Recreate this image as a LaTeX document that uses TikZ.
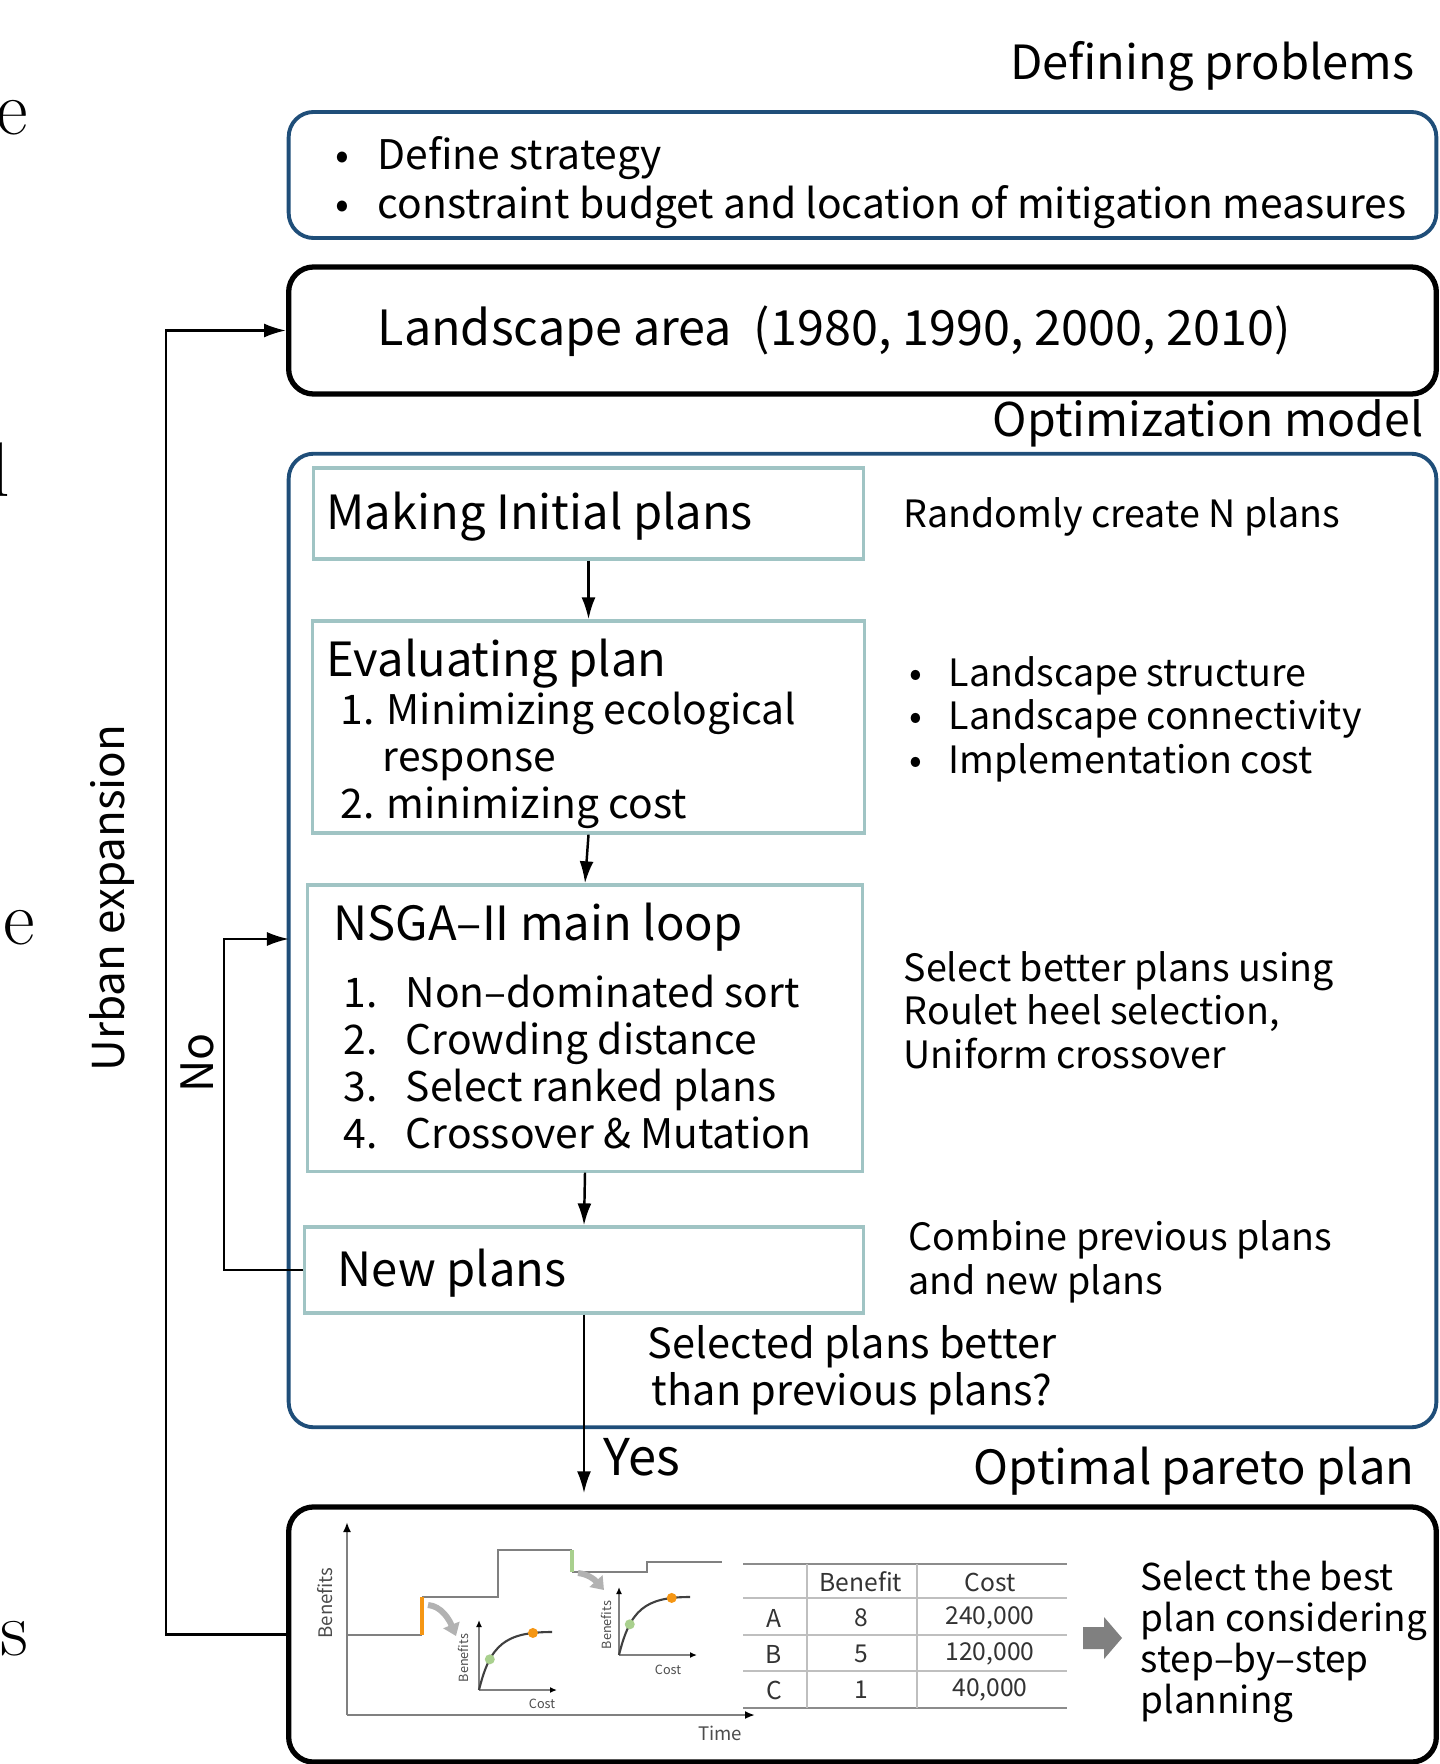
\documentclass[tikz,border=0pt]{standalone}
\usepackage{fontspec}
\setmainfont{Noto Sans CJK KR}
\usetikzlibrary{arrows.meta}

\definecolor{frameblue}{RGB}{31,78,121}
\definecolor{stepline}{RGB}{160,196,196}
\definecolor{axisgray}{RGB}{128,128,128}
\definecolor{ptorange}{RGB}{245,150,20}
\definecolor{ptgreen}{RGB}{169,208,142}

\tikzset{
  probframe/.style={draw=frameblue, line width=1.1pt, rounded corners=0.25cm},
  areaframe/.style={draw=black, line width=1.5pt, rounded corners=0.25cm},
  stepbox/.style={draw=stepline, line width=0.9pt},
  txt/.style={inner sep=0pt, align=left},
  bigtxt/.style={txt, font=\fontsize{13.4}{16}\selectfont},
  smalltxt/.style={txt, font=\fontsize{11.6}{13.4}\selectfont},
  notetxt/.style={txt, font=\fontsize{10.7}{12.4}\selectfont},
  flow/.style={line width=0.7pt, -{Latex[length=0.22cm, width=0.14cm]}},
  chartaxis/.style={draw=axisgray, line width=0.6pt, -{Latex[length=0.1cm, width=0.08cm, color=black]}},
  miniaxis/.style={draw=axisgray, line width=0.5pt, -{Latex[length=0.07cm, width=0.06cm, color=black]}},
  paretocurve/.style={draw=black!75, line width=0.6pt},
  ptdot/.style={circle, fill=#1, inner sep=0pt, minimum size=0.1cm},
  benefitline/.style={draw=axisgray, line width=0.6pt},
  chartlbl/.style={inner sep=0pt, text=black!70, font=\fontsize{5.3}{6}\selectfont},
  tinylbl/.style={inner sep=0pt, text=black!70, font=\fontsize{3.6}{4}\selectfont},
  tabcell/.style={inner sep=0pt, text=black!80, font=\fontsize{7}{8}\selectfont},
  tabline/.style={draw=black!25, line width=0.5pt},
  fadearrow/.style={draw=black!30, line width=0.06cm, -{Triangle[length=0.12cm, width=0.17cm]}},
  frag/.style={inner sep=0pt, font=\fontfamily{lmr}\fontsize{22}{26}\selectfont},
}

\begin{document}
\lineskiplimit=-10pt
\lineskip=0pt
\begin{tikzpicture}[x=0.01cm, y=-0.01cm]
	\useasboundingbox (0,0) rectangle (1440,1764);

	% cut-off text at the left edge
	\node [frag, anchor=base east] (fragA) at (29,135) {e};
	\node [frag, anchor=base east] (fragB) at (11,496) {l};
	\node [frag, anchor=base east] (fragC) at (36,944) {e};
	\node [frag, anchor=base east] (fragD) at (29,1655) {s};

	% defining problems
	\node [bigtxt, anchor=east] (defLbl) at (1415,66) {Defining problems};
	\node [probframe, minimum width=11.47cm, minimum height=1.26cm] (strat) at (862.5,175) {};
	\node [txt, right, font=\fontsize{11.6}{13.9}\selectfont] (stratText) at (335,183) {\makebox[0.42cm][l]{\textbullet}Define strategy\\\makebox[0.42cm][l]{\textbullet}constraint budget and location of mitigation measures};

	\node [areaframe, minimum width=11.47cm, minimum height=1.27cm] (land) at (862.5,330.5) {};
	\node [bigtxt, right, font=\fontsize{13.8}{16}\selectfont] (landText) at (377,331) {Landscape area\ \ (1980, 1990, 2000, 2010)};

	% optimization model
	\node [bigtxt, anchor=east, font=\fontsize{13.2}{16}\selectfont] (optLbl) at (1424,423) {Optimization model};
	\node [probframe, minimum width=11.47cm, minimum height=9.73cm] (optbox) at (862.5,940.5) {};

	\node [stepbox, minimum width=5.49cm, minimum height=0.91cm] (init) at (588.5,513.5) {};
	\node [bigtxt, right] (initText) at (326,517) {Making Initial plans};
	\node [notetxt, right] (initNote) at (903,517) {Randomly create N plans};

	\node [stepbox, minimum width=5.51cm, minimum height=2.12cm] (eval) at (588.5,727) {};
	\node [smalltxt, right] (evalText) at (326,734) {{\fontsize{13.4}{13.4}\selectfont Evaluating plan}\\\hspace*{0.14cm}1. Minimizing ecological\\\hspace*{0.56cm}response\\\hspace*{0.14cm}2. minimizing cost};
	\node [notetxt, right] (evalNote) at (909,719) {\makebox[0.39cm][l]{\textbullet}Landscape structure\\\makebox[0.39cm][l]{\textbullet}Landscape connectivity\\\makebox[0.39cm][l]{\textbullet}Implementation cost};

	\node [stepbox, minimum width=5.54cm, minimum height=2.86cm] (nsga) at (585,1028) {};
	\node [smalltxt, right] (nsgaText) at (333,1026) {{\fontsize{13.4}{13.3}\selectfont NSGA–II main loop}\\[5.7pt]\hspace*{0.1cm}\makebox[0.62cm][l]{1.}Non–dominated sort\\\hspace*{0.1cm}\makebox[0.62cm][l]{2.}Crowding distance\\\hspace*{0.1cm}\makebox[0.62cm][l]{3.}Select ranked plans\\\hspace*{0.1cm}\makebox[0.62cm][l]{4.}Crossover \& Mutation};
	\node [notetxt, right] (nsgaNote) at (903,1010) {Select better plans using\\Roulet heel selection,\\Uniform crossover};

	\node [stepbox, minimum width=5.58cm, minimum height=0.86cm] (newp) at (584,1270) {};
	\node [bigtxt, right] (newpText) at (337,1273) {New plans};
	\node [notetxt, right] (newpNote) at (908,1262) {Combine previous plans\\and new plans};

	\node [txt, align=center, font=\fontsize{11.8}{13.4}\selectfont] (question) at (852,1370) {Selected plans better\\than previous plans?};

	\draw [flow] (init) -- (eval);
	\draw [flow] (eval.south) -- (nsga.north);
	\draw [flow] (nsga.south) -- (newp.north);

	% optimal pareto plan
	\node [bigtxt, anchor=east] (paretoLbl) at (1415,1471) {Optimal pareto plan};
	\node [areaframe, minimum width=11.47cm, minimum height=2.55cm] (optbtm) at (862.5,1634.5) {};

	\draw [flow, shorten >=0.11cm] (newp.south) -- (newp.south |- optbtm.north);
	\node [txt, right, font=\fontsize{14.4}{16}\selectfont] (yesLbl) at (603,1457) {Yes};

	% loops on the left
	\draw [flow] (optbtm.west) -- ++(-120,0) |- (land.west);
	\node [txt, rotate=90, font=\fontsize{12.5}{14}\selectfont] (urban) at (112,898) {Urban expansion};
	\coordinate (noIn) at (289,939);
	\draw [flow] (newp.west) -- ++(-79,0) |- (noIn);
	\node [txt, rotate=90, font=\fontsize{12.7}{14}\selectfont] (noLbl) at (197,1063) {No};

	% benefit over time
	\draw [chartaxis] (347,1715) -- (347,1522);
	\draw [chartaxis] (347,1715) -- (755,1715);
	\node [chartlbl, rotate=90] (benLbl) at (325,1603) {Benefits};
	\node [chartlbl] (timeLbl) at (720,1733) {Time};
	\draw [benefitline] (347,1635) -- (422,1635) (422,1597) -- (498,1597) -- (498,1550) -- (572,1550) (572,1572) -- (647,1572) -- (647,1562) -- (722,1562);
	\draw [ptorange, line width=0.9pt] (422,1635) -- (422,1597);
	\draw [ptgreen, line width=0.9pt] (572,1550) -- (572,1572);
	\draw [fadearrow] (428,1605) .. controls (441,1606) and (449,1619) .. (456,1636);
	\draw [fadearrow] (578,1573) .. controls (588,1574) and (595,1580) .. (604,1590);

	\draw [miniaxis] (479,1690) -- (479,1620);
	\draw [miniaxis] (479,1690) -- (557,1690);
	\draw [paretocurve] (479,1690) .. controls (490,1645) and (505,1632) .. (552,1632)
		node [pos=0.28, ptdot=ptgreen] (greenA) {}
		node [pos=0.85, ptdot=ptorange] (orangeA) {};
	\node [tinylbl, rotate=90] (benA) at (463,1658) {Benefits};
	\node [tinylbl] (costA) at (542,1704) {Cost};

	\draw [miniaxis] (619,1655) -- (619,1587);
	\draw [miniaxis] (619,1655) -- (697,1655);
	\draw [paretocurve] (619,1655) .. controls (630,1610) and (645,1597) .. (690,1597)
		node [pos=0.28, ptdot=ptgreen] (greenB) {}
		node [pos=0.85, ptdot=ptorange] (orangeB) {};
	\node [tinylbl, rotate=90] (benB) at (606,1625) {Benefits};
	\node [tinylbl] (costB) at (668,1670) {Cost};

	% plan table
	\draw [tabline, draw=black!45] (743,1564) -- (1067,1564);
	\draw [tabline] (743,1598) -- (1067,1598);
	\draw [tabline] (743,1635) -- (1067,1635);
	\draw [tabline] (743,1671) -- (1067,1671);
	\draw [tabline, draw=black!45] (743,1708) -- (1067,1708);
	\draw [tabline] (807,1564) -- (807,1708);
	\draw [tabline] (917,1564) -- (917,1708);
	\node [tabcell] (hBen) at (861,1582) {Benefit};
	\node [tabcell] (hCost) at (990,1582) {Cost};
	\node [tabcell] (rA) at (774,1618) {A};
	\node [tabcell] (bA) at (861,1618) {8};
	\node [tabcell] (cA) at (990,1618) {240,000};
	\node [tabcell] (rB) at (774,1654) {B};
	\node [tabcell] (bB) at (861,1654) {5};
	\node [tabcell] (cB) at (990,1654) {120,000};
	\node [tabcell] (rC) at (774,1690) {C};
	\node [tabcell] (bC) at (861,1690) {1};
	\node [tabcell] (cC) at (990,1690) {40,000};

	\fill [axisgray] (1083,1627) -- (1104,1627) -- (1104,1617) -- (1122,1638) -- (1104,1659) -- (1104,1649) -- (1083,1649) -- cycle;
	\node [txt, right, font=\fontsize{10.5}{11.6}\selectfont] (bestText) at (1140,1642) {Select the best\\plan considering\\step–by–step\\planning};
\end{tikzpicture}
\end{document}
